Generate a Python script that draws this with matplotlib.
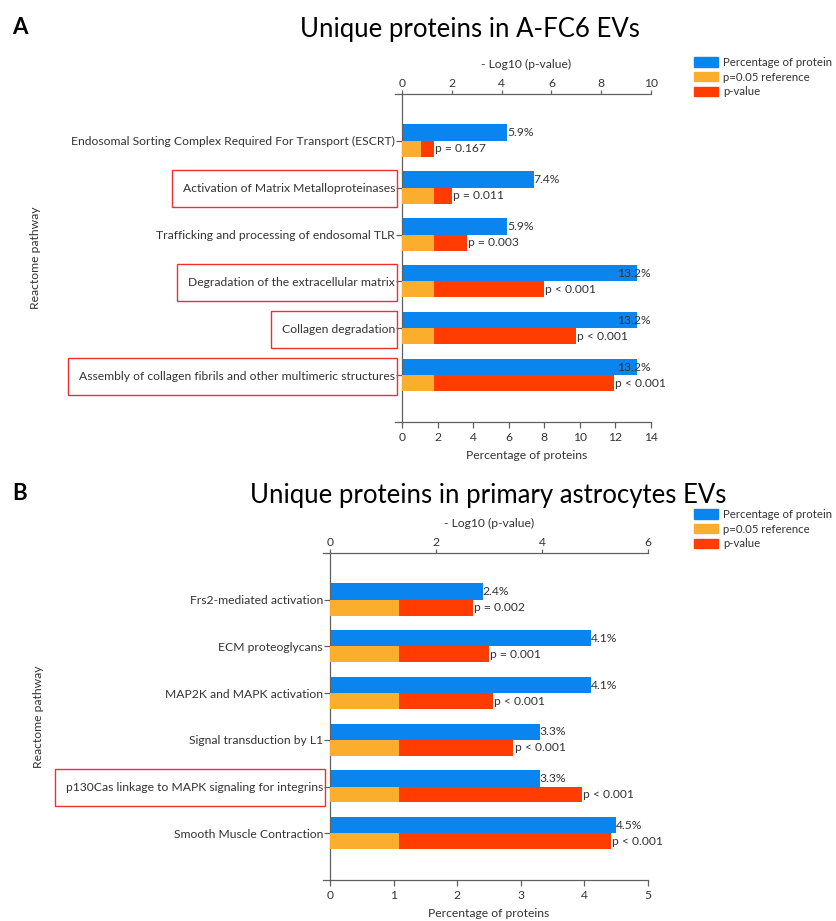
import matplotlib
matplotlib.use("Agg")
import matplotlib.pyplot as plt
from matplotlib.patches import Patch, Rectangle

plt.rcParams['font.family'] = ['Lato', 'DejaVu Sans']

# panel A: unique proteins in A-FC6 EVs
pathways_a = ['Endosomal Sorting Complex Required For Transport (ESCRT)',
              'Activation of Matrix Metalloproteinases',
              'Trafficking and processing of endosomal TLR',
              'Degradation of the extracellular matrix',
              'Collagen degradation',
              'Assembly of collagen fibrils and other multimeric structures']
pct_a = [5.9, 7.4, 5.9, 13.2, 13.2, 13.2]
logp_a = [0.78, 2.0, 2.6, 5.7, 7.0, 8.5]
plab_a = ['p = 0.167', 'p = 0.011', 'p = 0.003', 'p < 0.001', 'p < 0.001', 'p < 0.001']
boxed_a = [1, 3, 4, 5]

# panel B: unique proteins in primary astrocytes EVs
pathways_b = ['Frs2-mediated activation',
              'ECM proteoglycans',
              'MAP2K and MAPK activation',
              'Signal transduction by L1',
              'p130Cas linkage to MAPK signaling for integrins',
              'Smooth Muscle Contraction']
pct_b = [2.4, 4.1, 4.1, 3.3, 3.3, 4.5]
logp_b = [2.7, 3.0, 3.07, 3.46, 4.75, 5.3]
plab_b = ['p = 0.002', 'p = 0.001', 'p < 0.001', 'p < 0.001', 'p < 0.001', 'p < 0.001']
boxed_b = [4]

ref_logp = 1.3  # -log10(0.05)

BLUE = '#0a84ee'
YELLOW = '#fbad2e'
RED = '#ff3d00'
GREY = '#606060'
TXT = '#333333'
FS = 8.7

W, H = 836, 921
fig = plt.figure(figsize=(W / 100, H / 100), dpi=100)


def px_axes(x0, x1, y0, y1):
    return fig.add_axes([x0 / W, 1 - y1 / H, (x1 - x0) / W, (y1 - y0) / H])


def panel(ax, names, pct, logp, plab, pmax, lmax, pstep, lstep, ext_p, ext_l):
    pos = list(range(1, len(names) + 1))
    ax.barh([p - 0.35 for p in pos], pct, height=0.35, align='edge', color=BLUE)
    ax.set_xlim(0, pmax)
    ax.set_ylim(len(names) + 1, 0)
    ax.set_yticks(pos)
    ax.set_yticklabels(names, fontsize=FS, color=TXT)
    ax.set_xticks(range(0, pmax + 1, pstep))
    ax.tick_params(axis='x', labelsize=FS, labelcolor=TXT, color=GREY, length=4, width=0.9)
    ax.tick_params(axis='y', color=GREY, length=4, width=0.9, pad=1)
    ax.set_xlabel('Percentage of proteins', fontsize=FS, color=TXT, labelpad=5)
    ax.set_ylabel('Reactome pathway', fontsize=FS, color=TXT)
    for s in ['top', 'right']:
        ax.spines[s].set_visible(False)
    for s in ['left', 'bottom']:
        ax.spines[s].set_color(GREY)
        ax.spines[s].set_linewidth(0.9)
    ax.spines['bottom'].set_bounds(-ext_p, pmax)

    for p, v in zip(pos, pct):
        if v / pmax > 0.92:
            ax.text(pmax, p - 0.17, f'{v:.1f}%', ha='right', va='center', fontsize=FS, color=TXT)
        else:
            ax.text(v, p - 0.17, f'{v:.1f}%', ha='left', va='center', fontsize=FS, color=TXT)

    # p-value bars on the top (-log10) axis
    ax2 = ax.twiny()
    back = [max(ref_logp, v) for v in logp]
    front = [min(ref_logp, v) for v in logp]
    ax2.barh(pos, back, height=0.34, align='edge', color=RED)
    ax2.barh(pos, front, height=0.34, align='edge', color=YELLOW)
    ax2.set_xlim(0, lmax)
    ax2.set_xticks(range(0, lmax + 1, lstep))
    ax2.tick_params(axis='x', labelsize=FS, labelcolor=TXT, color=GREY, length=3, width=0.9, pad=0.5)
    ax2.set_xlabel('- Log10 (p-value)', fontsize=FS, color=TXT, labelpad=7)
    for s in ['bottom', 'left', 'right']:
        ax2.spines[s].set_visible(False)
    ax2.spines['top'].set_color(GREY)
    ax2.spines['top'].set_linewidth(0.9)
    ax2.spines['top'].set_bounds(-ext_l, lmax)
    for p, b, t in zip(pos, back, plab):
        ax2.text(b + lmax * 0.004, p + 0.17, t, ha='left', va='center', fontsize=FS, color=TXT)
    return ax2


ax_a = px_axes(402, 651, 94, 422)
panel(ax_a, pathways_a, pct_a, logp_a, plab_a, 14, 10, 2, 2, 0.4, 0.28)
ax_b = px_axes(330, 648, 553, 880)
panel(ax_b, pathways_b, pct_b, logp_b, plab_b, 5, 6, 1, 2, 0.11, 0.13)

ax_a.yaxis.set_label_coords(-1.45, 0.5)
ax_b.yaxis.set_label_coords(-0.9, 0.5)

# titles and panel letters
fig.text(470 / W, 1 - 30 / H, 'Unique proteins in A-FC6 EVs', ha='center', va='center',
         fontsize=18.5, color='black')
fig.text(488 / W, 1 - 495 / H, 'Unique proteins in primary astrocytes EVs', ha='center',
         va='center', fontsize=18.5, color='black')
fig.text(12 / W, 1 - 28 / H, 'A', ha='left', va='center', fontsize=16, fontweight='bold')
fig.text(12 / W, 1 - 493 / H, 'B', ha='left', va='center', fontsize=16, fontweight='bold')

# legends
handles = [Patch(color=BLUE, label='Percentage of protein'),
           Patch(color=YELLOW, label='p=0.05 reference'),
           Patch(color=RED, label='p-value')]
for ytop in [57, 509]:
    fig.legend(handles=handles, loc='upper left', bbox_to_anchor=(694 / W, 1 - ytop / H),
               frameon=False, fontsize=8.2, handlelength=2.1, handleheight=0.9,
               labelspacing=0.32, handletextpad=0.45, borderpad=0, borderaxespad=0,
               labelcolor=TXT)

# red frames around highlighted pathways
fig.canvas.draw()
renderer = fig.canvas.get_renderer()
for ax, idx in [(ax_a, boxed_a), (ax_b, boxed_b)]:
    axl = ax.get_window_extent(renderer).x0
    labels = ax.get_yticklabels()
    for i in idx:
        bb = labels[i].get_window_extent(renderer)
        cy = (bb.y0 + bb.y1) / 2
        x0 = bb.x0 - 11
        x1 = axl - 5
        fig.patches.append(Rectangle((x0 / W, (cy - 18.5) / H), (x1 - x0) / W, 37 / H,
                                     transform=fig.transFigure, fill=False,
                                     edgecolor='#f03030', linewidth=1.0))

fig.savefig('out.png', dpi=100)
